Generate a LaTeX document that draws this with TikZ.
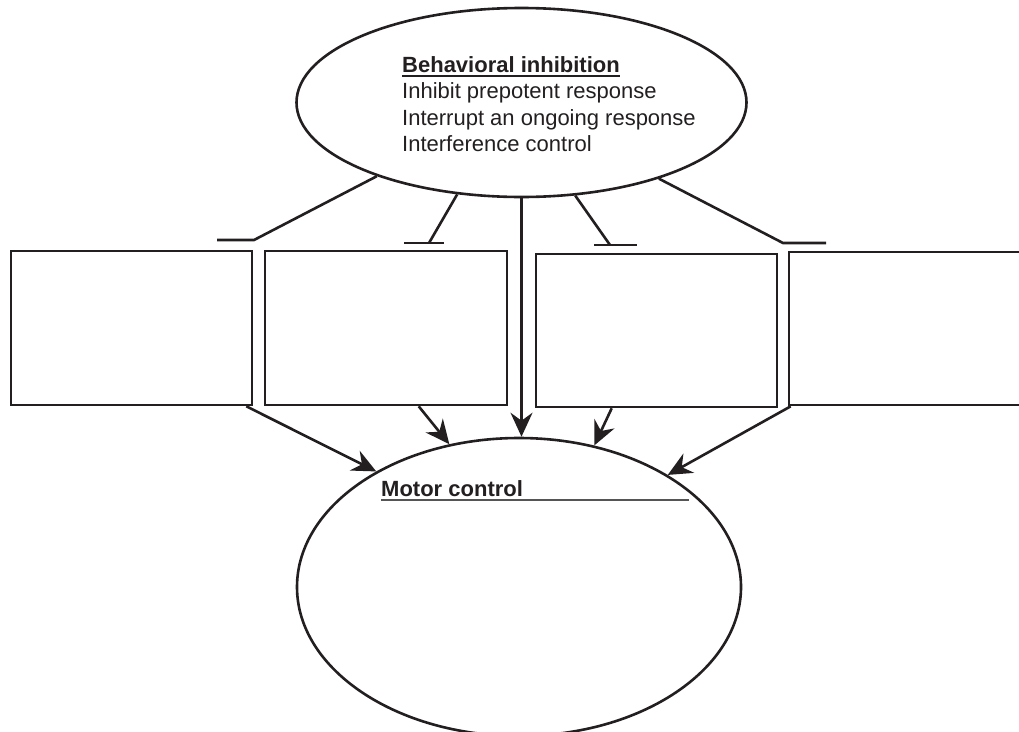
\documentclass[tikz,border=0pt]{standalone}
\usepackage{fontspec}
\setmainfont{Liberation Sans}
\usetikzlibrary{arrows.meta,calc,shapes.geometric}

\definecolor{ink}{HTML}{231F20}
\definecolor{rule}{HTML}{555555}

\tikzset{
  stroke/.style={draw=ink, line width=2.6pt},
  oval/.style={ellipse, stroke, inner sep=0pt},
  panel/.style={rectangle, stroke, inner sep=0pt},
  label/.style={inner sep=0pt, text=ink, font=\fontsize{22}{26}\selectfont},
  heading/.style={label, font=\fontsize{22}{26}\selectfont\bfseries},
  wire/.style={draw=ink, line width=2.6pt},
  headtip/.tip={Stealth[length=24pt 0 0, width=22pt 0 0, inset=8pt 0]},
  arrowed/.style={wire, -headtip},
  uline/.style={draw=ink, line width=1.6pt},
  greyline/.style={draw=rule, line width=1.5pt}
}

\begin{document}
\begin{tikzpicture}[x=1pt,y=-1pt]
  \clip (0,0) rectangle (1019,731);
  \useasboundingbox (0,0) rectangle (1019,731);

  % upper oval: behavioral inhibition
  \node[oval, minimum width=450pt, minimum height=189pt] (inhib) at (521.5,102.5) {};
  \node[heading, anchor=base west] (title) at (402,72) {Behavioral inhibition};
  \node[label, anchor=base west] (l1) at (402,98.5) {Inhibit prepotent response};
  \node[label, anchor=base west] (l2) at (402,125) {Interrupt an ongoing response};
  \node[label, anchor=base west] (l3) at (402,151) {Interference control};
  \draw[uline] ([yshift=-4pt]title.base west) -- ([yshift=-4pt]title.base east);

  % four empty panels
  \node[panel, minimum width=241pt, minimum height=154pt] (box1) at (131.5,328) {};
  \node[panel, minimum width=242pt, minimum height=154pt] (box2) at (386,328) {};
  \node[panel, minimum width=241pt, minimum height=153pt] (box3) at (656.5,330.5) {};
  \node[panel, minimum width=245pt, minimum height=153pt] (box4) at (911.5,328.5) {};

  % lower oval: motor control
  \node[oval, minimum width=444pt, minimum height=298pt] (motor) at (519,587) {};
  \node[heading, anchor=base west] (mc) at (381,496) {Motor control};
  \draw[greyline] ([yshift=-4pt]mc.base west) -- ++(308,0);

  % inhibition bars
  \coordinate (t1) at (254,240);
  \coordinate (b1) at (217,240);
  \coordinate (t2) at (429,243);
  \coordinate (b2l) at (404,243);
  \coordinate (b2r) at (444,243);
  \coordinate (t3) at (610,245);
  \coordinate (b3l) at (594,245);
  \coordinate (b3r) at (637,245);
  \coordinate (t4) at (783,243);
  \coordinate (b4) at (826,243);

  \draw[wire] (inhib.207.2) -- (t1) -- (b1);
  \draw[wire] (inhib.235.7) -- (t2);
  \draw[wire] (b2l) -- (b2r);
  \draw[wire] (inhib.300.7) -- (t3);
  \draw[wire] (b3l) -- (b3r);
  \draw[wire] (inhib.331.8) -- (t4) -- (b4);

  % arrows into motor control
  \draw[arrowed] ($(box1.south east)+(-7,0)$) -- (motor.141.7);
  \draw[arrowed] ($(box2.south west)+(155,0)$) -- (motor.116.9);
  \draw[arrowed] (inhib.south) -- (inhib.south |- motor.north);
  \draw[arrowed] ($(box3.south west)+(77,0)$) -- (motor.62.5);
  \draw[arrowed] ($(box4.south west)+(3,0)$) -- (motor.37.8);
\end{tikzpicture}
\end{document}
